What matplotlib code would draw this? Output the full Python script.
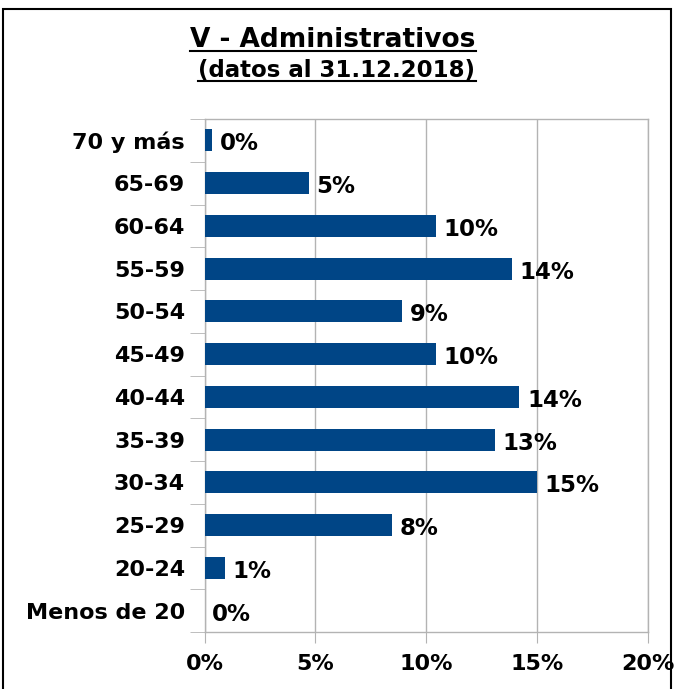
import matplotlib.pyplot as plt
from matplotlib.patches import Rectangle
from matplotlib.lines import Line2D
import numpy as np

# datos
categorias = ["Menos de 20", "20-24", "25-29", "30-34", "35-39", "40-44",
              "45-49", "50-54", "55-59", "60-64", "65-69", "70 y más"]
porcentajes = [0.0, 0.92, 8.45, 14.99, 13.08, 14.2,
               10.43, 8.9, 13.85, 10.43, 4.71, 0.34]
etiquetas = ["0%", "1%", "8%", "15%", "13%", "14%",
             "10%", "9%", "14%", "10%", "5%", "0%"]
ticks_x = [0, 5, 10, 15, 20]

AZUL = "#004586"
GRIS = "#b3b3b3"

W, H = 675, 689
fig = plt.figure(figsize=(W / 100, H / 100), dpi=100)
ax = fig.add_axes([204.5 / W, 1 - 632 / H, (648 - 204.5) / W, (632 - 119) / H])

y = np.arange(len(categorias))
ax.barh(y, porcentajes, height=0.52, color=AZUL, zorder=3)

for yi, v, txt in zip(y, porcentajes, etiquetas):
    ax.annotate(txt, (v, yi), xytext=(5.5, -2.5), textcoords="offset points",
                va="center", ha="left", fontsize=16.5, fontweight="bold")

ax.set_xlim(0, 20)
ax.set_ylim(-0.5, len(categorias) - 0.5)
ax.set_xticks(ticks_x)
ax.set_xticklabels([f"{t}%" for t in ticks_x], fontsize=16, fontweight="bold")
ax.set_yticks(y)
ax.set_yticklabels(categorias, fontsize=16, fontweight="bold")
ax.tick_params(axis="y", length=0, pad=14)
ax.tick_params(axis="x", length=8, color=GRIS, pad=8)
# marcas menores entre categorias
ax.set_yticks(np.arange(-0.5, len(categorias), 1), minor=True)
ax.tick_params(axis="y", which="minor", length=11, color=GRIS)
ax.grid(axis="x", color=GRIS, lw=1, zorder=0)
for s in ax.spines.values():
    s.set_color(GRIS)
    s.set_linewidth(1)

# marco exterior
fig.patches.append(Rectangle((3 / W, -0.05), (671 - 3) / W, 1 - 9 / H + 0.05,
                             transform=fig.transFigure, fill=False,
                             edgecolor="black", lw=1.5))

t1 = fig.text(333 / W, 1 - 40 / H, "V - Administrativos", ha="center", va="center",
              fontsize=19, fontweight="bold")
t2 = fig.text(337 / W, 1 - 71 / H, "(datos al 31.12.2018)", ha="center", va="center",
              fontsize=16.5, fontweight="bold")

# subrayado
fig.canvas.draw()
r = fig.canvas.get_renderer()
for t in (t1, t2):
    bb = t.get_window_extent(r).transformed(fig.transFigure.inverted())
    yl = bb.y0 + 2 / H
    fig.add_artist(Line2D([bb.x0, bb.x1], [yl, yl], transform=fig.transFigure,
                          color="black", lw=1.5))

fig.savefig("out.png", dpi=100)
